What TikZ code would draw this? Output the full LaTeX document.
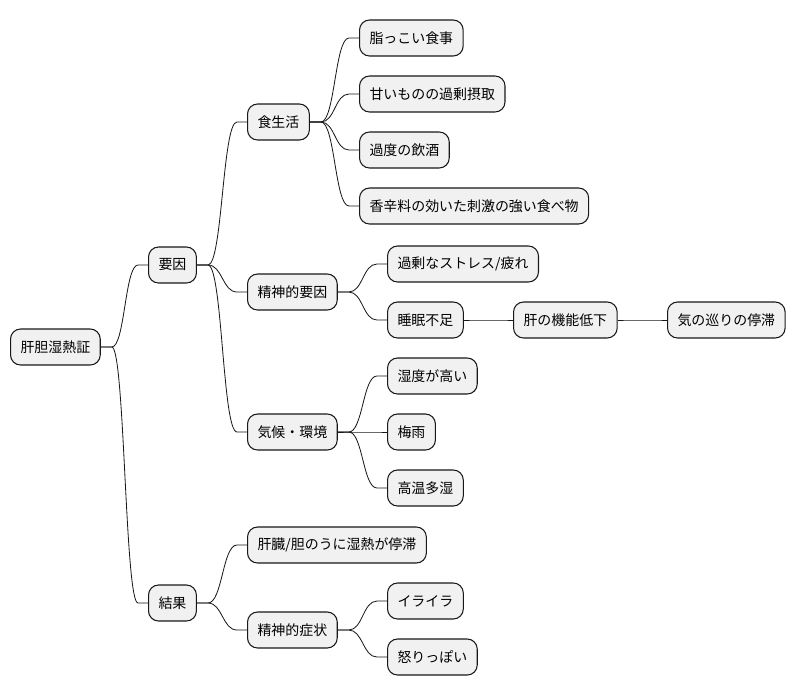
\documentclass[tikz,border=0pt]{standalone}
\usepackage{fontspec}
\setmainfont{Noto Sans CJK JP}
\usepackage{xcolor}
\usetikzlibrary{positioning,calc}
\definecolor{ink}{HTML}{181818}
\definecolor{boxbg}{HTML}{F1F1F1}
\tikzset{
  topic/.style={draw=ink,fill=boxbg,line width=0.9pt,rounded corners=0.3cm,
                anchor=west,minimum height=1.08cm,inner xsep=0.3cm,inner ysep=0pt,
                font=\fontsize{11.9}{14}\selectfont},
  branch/.style={draw=ink,line width=0.7pt}
}
\newcommand{\twig}[2]{%
  \coordinate (a) at ([xshift=0.33cm]#1.east);
  \coordinate (b) at ([xshift=-0.3cm]#2.west);
  \coordinate (m) at ($(a)!0.5!(b)$);
  \draw[branch] (#1.east) -- (a) .. controls (m|-a) and (m|-b) .. (b) -- (#2.west);}

\begin{document}
\begin{tikzpicture}[x=0.03cm,y=-0.03cm]
      \useasboundingbox (0,0) rectangle (796,696);
      % root
      \node[topic] (root) at (10,347) {肝胆湿熱証};
      % causes
      \node[topic] (cause) at (148,265) {要因};
      \node[topic] (diet) at (247,122) {食生活};
      \node[topic] (oily) at (359,38) {脂っこい食事};
      \node[topic] (sweet) at (359,94) {甘いものの過剰摂取};
      \node[topic] (drink) at (359,150) {過度の飲酒};
      \node[topic] (spicy) at (359,206) {香辛料の効いた刺激の強い食べ物};
      \node[topic] (mind) at (247,292) {精神的要因};
      \node[topic] (stress) at (387,264) {過剰なストレス/疲れ};
      \node[topic] (sleep) at (387,320) {睡眠不足};
      \node[topic] (liver) at (513,320) {肝の機能低下};
      \node[topic] (qi) at (667,320) {気の巡りの停滞};
      \node[topic] (climate) at (247,432) {気候・環境};
      \node[topic] (humid) at (387,376) {湿度が高い};
      \node[topic] (rainy) at (387,432) {梅雨};
      \node[topic] (hot) at (387,488) {高温多湿};
      % results
      \node[topic] (result) at (148,603) {結果};
      \node[topic] (stasis) at (247,545) {肝臓/胆のうに湿熱が停滞};
      \node[topic] (mood) at (247,630) {精神的症状};
      \node[topic] (irritable) at (387,601) {イライラ};
      \node[topic] (angry) at (387,657) {怒りっぽい};
      % connectors
      \foreach \p/\c in {root/cause,root/result,cause/diet,cause/mind,cause/climate,
                         diet/oily,diet/sweet,diet/drink,diet/spicy,
                         mind/stress,mind/sleep,sleep/liver,liver/qi,
                         climate/humid,climate/rainy,climate/hot,
                         result/stasis,result/mood,mood/irritable,mood/angry}
        {\twig{\p}{\c}}
    \end{tikzpicture}
\end{document}
